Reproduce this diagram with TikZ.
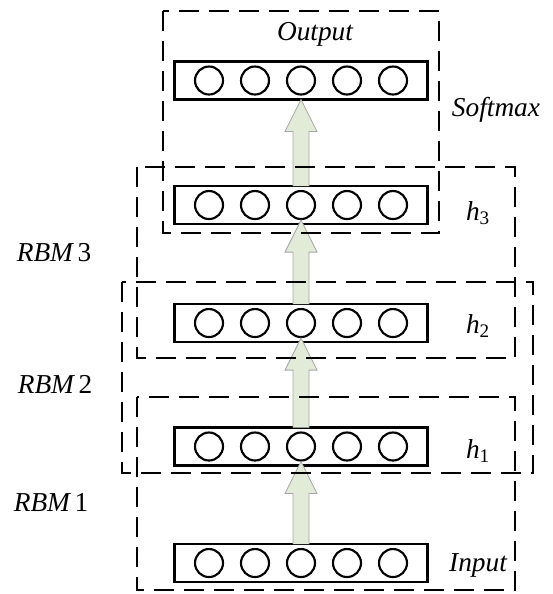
\documentclass[tikz,border=0pt]{standalone}
\usepackage{fontspec}
\setmainfont{Liberation Serif}
\usetikzlibrary{positioning, calc}

\definecolor{arrowfill}{RGB}{226,234,216}

% block arrow from tail #1 up to tip #2
\newcommand{\fatarrow}[2]{%
  \filldraw[fatarrow] let \p1=#1, \p2=#2 in
    (\x1-6pt,\y1) -- (\x1-6pt,\y2-24pt) -- (\x1-12pt,\y2-24pt) -- (\x1,\y2)
    -- (\x1+12pt,\y2-24pt) -- (\x1+6pt,\y2-24pt) -- (\x1+6pt,\y1);}

\begin{document}
\begin{tikzpicture}[x=0.75pt, y=-0.75pt,
  font=\fontsize{20.5}{24}\selectfont,
  % layer = bar holding five units
  layer/.style={rectangle, draw=black, line width=1.8pt, minimum width=189.75pt, minimum height=28.5pt, inner sep=0pt, outer sep=0pt},
  unit/.style={circle, draw=black, line width=1.6pt, minimum size=21pt, inner sep=0pt},
  % dashed grouping frames
  group/.style={draw=black, line width=1.6pt, dash pattern=on 15pt off 7.5pt},
  fatarrow/.style={fill=arrowfill, draw=gray!70, line width=0.6pt},
  lbl/.style={inner sep=0pt, font=\fontsize{20.5}{24}\selectfont\itshape}
]
\useasboundingbox (0,0) rectangle (553,594);

% ---- Layers (top to bottom) ----
\node[layer] (out) at (301,80.5) {};
\node[layer, below=64.9pt of out] (h3) {};
\node[layer, below=60pt of h3] (h2) {};
\node[layer, below=64.1pt of h2] (h1) {};
\node[layer, below=58.9pt of h1] (in) {};

% ---- Units ----
\foreach \l in {out,h3,h2,h1,in}
  \foreach \i in {1,...,5}
    \node[unit] (\l-\i) at ([xshift={(\i-3)*34.5pt}]\l.center) {};

% ---- Flows ----
\fatarrow{(in.north)}{(h1-3.south)}
\fatarrow{(h1.north)}{(h2-3.south)}
\fatarrow{(h2.north)}{(h3-3.south)}
\fatarrow{(h3.north)}{(out.south)}

% ---- Frames ----
\draw[group] (163,11) rectangle (439,233);
\draw[group] (137,167) rectangle (515,358);
\draw[group] (122,282) rectangle (533,473);
\draw[group] (137,397) rectangle (515,590);

% ---- Labels ----
\node[lbl] (outlbl) at (315,34) {Output};
\node[lbl] (softlbl) at (496,110) {Softmax};
\node[lbl] (h3lbl) at (478,213) {h\textsubscript{\textup{3}}};
\node[lbl] (h2lbl) at (478,326) {h\textsubscript{\textup{2}}};
\node[lbl] (h1lbl) at (478,451) {h\textsubscript{\textup{1}}};
\node[lbl] (inlbl) at (478,565) {Input};
\node[lbl] (rbm3lbl) at (54,253) {RBM\,\textup{3}};
\node[lbl] (rbm2lbl) at (55,384) {RBM\,\textup{2}};
\node[lbl] (rbm1lbl) at (51,503) {RBM\,\textup{1}};
\end{tikzpicture}
\end{document}
